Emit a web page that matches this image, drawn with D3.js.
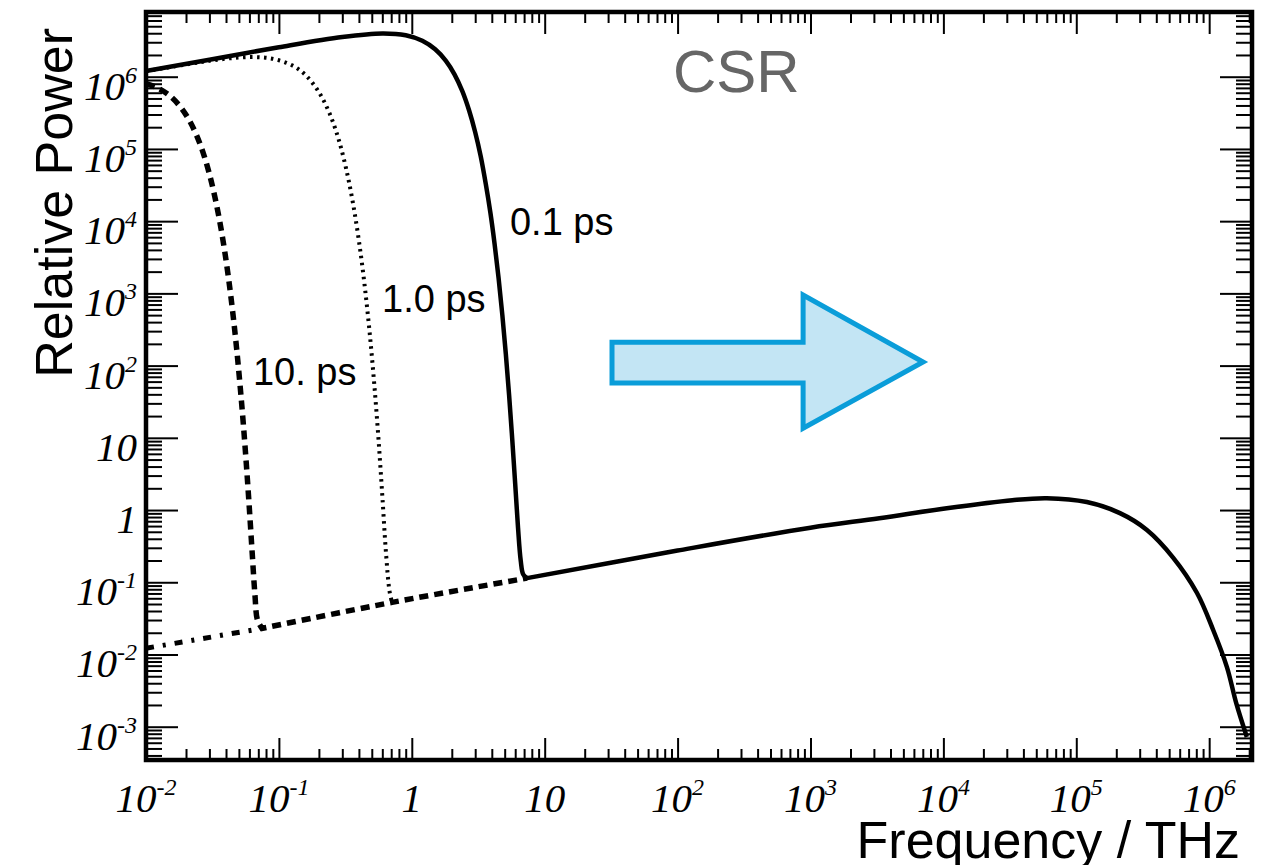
<!DOCTYPE html>
<html><head><meta charset="utf-8">
<script src="https://cdn.jsdelivr.net/npm/d3@7"></script>
<style>
html,body{margin:0;padding:0;background:#fff;}
svg{display:block;}
</style></head>
<body><svg id="chart" width="1266" height="865"></svg>
<script>
// ---------------- data ----------------
const xTickValues = [1e-2, 1e-1, 1, 10, 1e2, 1e3, 1e4, 1e5, 1e6];
const xTickLabels = [["10","-2"],["10","-1"],["1",""],["10",""],["10","2"],["10","3"],["10","4"],["10","5"],["10","6"]];
const yTickValues = [1e6, 1e5, 1e4, 1e3, 1e2, 10, 1, 1e-1, 1e-2, 1e-3];
const yTickLabels = [["10","6"],["10","5"],["10","4"],["10","3"],["10","2"],["10",""],["1",""],["10","-1"],["10","-2"],["10","-3"]];

// incoherent synchrotron spectrum (common baseline), frequency in THz
const baseFreq  = [0.01, 0.0746, 0.71, 7.36, 100, 1000, 3300, 10600, 33000, 60000, 120000, 213000, 340000, 535000, 810000, 1070000, 1360000, 1600000, 1920000];
const basePower = [0.0122, 0.023, 0.0527, 0.114, 0.275, 0.57, 0.77, 1.06, 1.37, 1.46, 1.29, 0.906, 0.53, 0.22, 0.071, 0.022, 0.0067, 0.0021, 0.00072];

// coherent parts (bunch length 0.1 ps, 1.0 ps, 10 ps)
const coh01Freq  = [0.01, 0.03, 0.1, 0.3, 0.6, 0.9, 1.2, 1.5, 1.8, 2.1, 2.4, 2.7, 3.0, 3.3, 3.6, 3.9, 4.2, 4.5, 4.8, 5.1, 5.4, 5.7, 6.0, 6.3, 6.6, 6.9, 7.36];
const coh01Power = [1.2e6, 1.72e6, 2.56e6, 3.54e6, 3.97e6, 3.75e6, 3.15e6, 2.4e6, 1.67e6, 1.07e6, 6.3e5, 3.4e5, 1.7e5, 7.9e4, 3.3e4, 1.32e4, 4800, 1620, 504, 145, 38.5, 9.5, 2.28, 0.57, 0.2, 0.128, 0.114];
const coh1Freq   = [0.01, 0.03, 0.05, 0.075, 0.1, 0.13, 0.16, 0.2, 0.24, 0.28, 0.32, 0.36, 0.4, 0.44, 0.48, 0.52, 0.56, 0.6, 0.64, 0.68, 0.71];
const coh1Power  = [1.19e6, 1.66e6, 1.84e6, 1.85e6, 1.69e6, 1.39e6, 1.04e6, 6.1e5, 3.14e5, 1.4e5, 5.4e4, 1.82e4, 5350, 1370, 307, 60, 10.3, 1.58, 0.25, 0.075, 0.0527];
const coh10Freq  = [0.01, 0.012, 0.015, 0.018, 0.021, 0.024, 0.027, 0.03, 0.033, 0.036, 0.039, 0.042, 0.045, 0.048, 0.051, 0.054, 0.057, 0.06, 0.063, 0.066, 0.069, 0.0746];
const coh10Power = [8.0e5, 7.1e5, 5.5e5, 3.9e5, 2.56e5, 1.55e5, 8.7e4, 4.5e4, 2.15e4, 9600, 3950, 1510, 538, 177, 54, 15.5, 4.1, 1.02, 0.25, 0.068, 0.03, 0.023];

const curveNames = ["0.1 ps", "1.0 ps", "10. ps"];

// ---------------- layout ----------------
const W = 1266, H = 865;
const m = {l: 146, r: 1252, t: 12, b: 760};
const svg = d3.select("#chart");

const x = d3.scaleLog().domain([1e-2, 2.1e6]).range([m.l, m.r]);
const y = d3.scaleLog().domain([3.46e-4, 7.87e6]).range([m.b, m.t]);

const isMajor = v => Math.abs(Math.log10(v) - Math.round(Math.log10(v))) < 1e-6;
const xMinor = x.ticks(30).filter(v => !isMajor(v));
const yMinor = y.ticks(30).filter(v => !isMajor(v));

function addAxis(axis, vals, size, tr) {
  const g = svg.append("g").attr("transform", tr)
    .call(axis.tickValues(vals).tickSize(size).tickFormat(() => ""));
  g.select(".domain").remove();
  g.selectAll(".tick line").attr("stroke", "#000").attr("stroke-width", 2);
  g.selectAll(".tick text").remove();
  return g;
}
addAxis(d3.axisBottom(x), xTickValues, -22, `translate(0,${m.b})`);
addAxis(d3.axisBottom(x), xMinor, -11, `translate(0,${m.b})`);
addAxis(d3.axisTop(x), xTickValues, -22, `translate(0,${m.t})`);
addAxis(d3.axisTop(x), xMinor, -11, `translate(0,${m.t})`);
addAxis(d3.axisLeft(y), yTickValues, -32, `translate(${m.l},0)`);
addAxis(d3.axisLeft(y), yMinor, -16, `translate(${m.l},0)`);
addAxis(d3.axisRight(y), yTickValues, -32, `translate(${m.r},0)`);
addAxis(d3.axisRight(y), yMinor, -16, `translate(${m.r},0)`);

// tick labels
const labFont = "'Liberation Serif','Times New Roman',serif";
function fillLabel(sel, lab) {
  sel.append("tspan").text(lab[0]);
  if (lab[1]) sel.append("tspan").attr("font-size", 24).attr("dy", -17).text(lab[1]);
}
svg.append("g").selectAll("text").data(xTickValues).join("text")
  .attr("x", d => x(d)).attr("y", 812)
  .attr("text-anchor", "middle").attr("font-family", labFont)
  .attr("font-style", "italic").attr("font-size", 41).attr("fill", "#000")
  .each(function(d, i) { fillLabel(d3.select(this), xTickLabels[i]); });
svg.append("g").selectAll("text").data(yTickValues).join("text")
  .attr("x", 137).attr("y", d => y(d) + 23)
  .attr("text-anchor", "end").attr("font-family", labFont)
  .attr("font-style", "italic").attr("font-size", 41).attr("fill", "#000")
  .each(function(d, i) { fillLabel(d3.select(this), yTickLabels[i]); });

// ---------------- curves ----------------
const zip = (fs, ps) => fs.map((f, i) => [f, ps[i]]);
const lineGen = d3.line().x(d => x(d[0])).y(d => y(d[1])).curve(d3.curveCatmullRom.alpha(0.5));
const base = zip(baseFreq, basePower);
function joined(coh, fromF, toF) {
  const seg = base.filter(d => d[0] >= fromF - 1e-9 && d[0] <= toF + 1e-9);
  let p = lineGen(coh);
  if (seg.length > 1) p += lineGen(seg).replace(/^M/, "L");
  return p;
}
const plot = svg.append("g");
const junction10 = coh10Freq[coh10Freq.length - 1];
const junction01 = coh01Freq[coh01Freq.length - 1];

// incoherent baseline (dash-dot) where no coherent curve covers it
plot.append("path")
  .attr("d", lineGen(base.filter(d => d[0] <= junction10 + 1e-9)))
  .attr("fill", "none").attr("stroke", "#000").attr("stroke-width", 5)
  .attr("stroke-dasharray", "8,9,3,9");
// 10 ps (dashed)
plot.append("path")
  .attr("d", joined(zip(coh10Freq, coh10Power), junction10, junction01))
  .attr("fill", "none").attr("stroke", "#000").attr("stroke-width", 5.5)
  .attr("stroke-dasharray", "9,6");
// 1.0 ps (dotted)
plot.append("path")
  .attr("d", lineGen(zip(coh1Freq, coh1Power)))
  .attr("fill", "none").attr("stroke", "#000").attr("stroke-width", 4)
  .attr("stroke-dasharray", "2.5,4.5");
// 0.1 ps (solid)
plot.append("path")
  .attr("d", joined(zip(coh01Freq, coh01Power), junction01, 1e9))
  .attr("fill", "none").attr("stroke", "#000").attr("stroke-width", 4.5)
  .attr("stroke-linejoin", "round");

// frame
svg.append("rect").attr("x", m.l).attr("y", m.t)
  .attr("width", m.r - m.l).attr("height", m.b - m.t)
  .attr("fill", "none").attr("stroke", "#000").attr("stroke-width", 4.5);

// ---------------- annotations ----------------
const sans = "'Liberation Sans',Arial,Helvetica,sans-serif";
const labelPos = [[5.48, 6410], [0.597, 551], [0.0638, 53.7]];
svg.append("g").selectAll("text").data(curveNames).join("text")
  .attr("x", (d, i) => x(labelPos[i][0])).attr("y", (d, i) => y(labelPos[i][1]))
  .attr("font-family", sans).attr("font-size", 38).attr("fill", "#000")
  .text(d => d);

svg.append("text").attr("x", 673).attr("y", 92)
  .attr("font-family", sans).attr("font-size", 60).attr("fill", "#666").text("CSR");

// arrow (data coordinates)
const arrowF = {tail: 32.1, neck: 880, tip: 7030};
const arrowP = {shaftTop: 211, shaftBot: 57.2, headTop: 948, headBot: 13.6, tip: 112};
const arrowPts = [
  [arrowF.tail, arrowP.shaftTop], [arrowF.neck, arrowP.shaftTop], [arrowF.neck, arrowP.headTop],
  [arrowF.tip, arrowP.tip], [arrowF.neck, arrowP.headBot], [arrowF.neck, arrowP.shaftBot],
  [arrowF.tail, arrowP.shaftBot]
];
svg.append("polygon")
  .attr("points", arrowPts.map(d => [x(d[0]), y(d[1])].join(",")).join(" "))
  .attr("fill", "#c3e5f4").attr("stroke", "#0a9dd9").attr("stroke-width", 5)
  .attr("stroke-linejoin", "miter");

// axis titles
svg.append("text").attr("transform", "translate(72,28) rotate(-90)")
  .attr("text-anchor", "end").attr("font-family", sans).attr("font-size", 52)
  .attr("fill", "#000").text("Relative Power");
svg.append("text").attr("x", 1240).attr("y", 858)
  .attr("text-anchor", "end").attr("font-family", sans).attr("font-size", 52)
  .attr("fill", "#000").text("Frequency / THz");
</script>
</body></html>
